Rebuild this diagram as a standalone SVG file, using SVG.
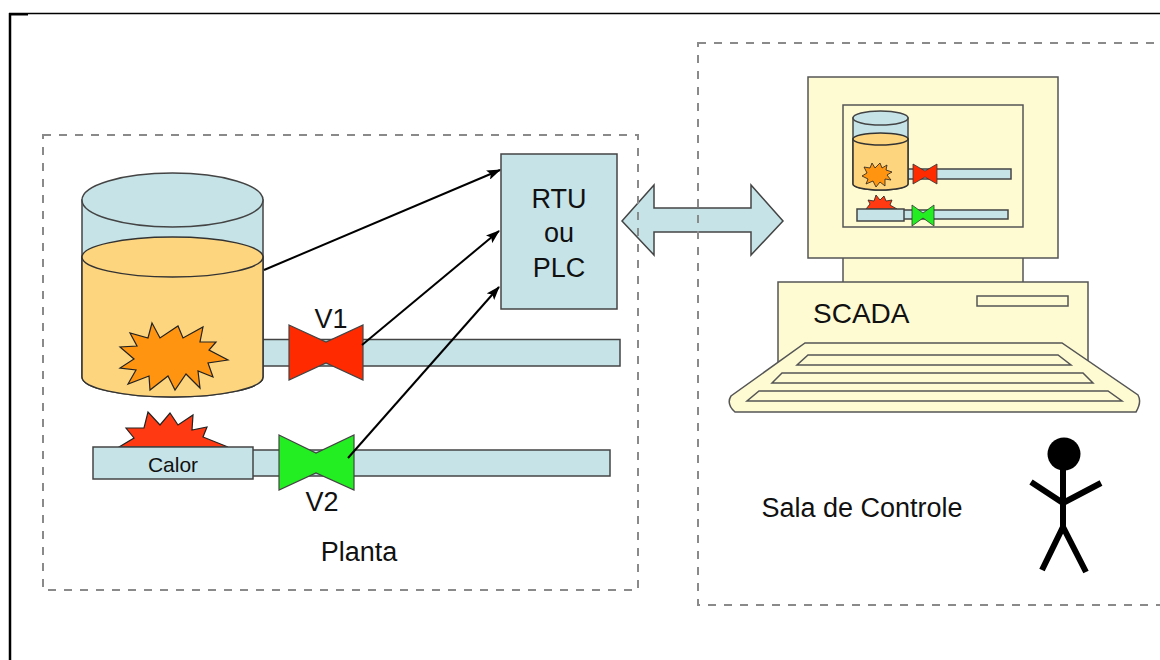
<svg xmlns="http://www.w3.org/2000/svg" width="1160" height="660" viewBox="0 0 1160 660">
  <defs>
    <marker id="arrow" viewBox="0 0 14 10" refX="13" refY="5" markerWidth="14" markerHeight="10" markerUnits="userSpaceOnUse" orient="auto">
      <path d="M0,0 L14,5 L0,10 L3,5 Z" fill="#000"/>
    </marker>
  </defs>
  <style>
    text { font-family: "Liberation Sans", Arial, sans-serif; fill: #111; }
    .zone { fill: none; stroke: #8a8a8a; stroke-width: 2; stroke-dasharray: 8 8; }
    .blue { fill: #c6e4e8; stroke: #444; stroke-width: 1.5; }
    .liquid { fill: #fdd57f; stroke: #333; stroke-width: 1.5; }
    .cream { fill: #fefbd3; stroke: #555; stroke-width: 1.5; }
    .link { fill: none; stroke: #000; stroke-width: 2; marker-end: url(#arrow); }
    .lbl { font-size: 27px; text-anchor: middle; }
  </style>

  <rect width="1160" height="660" fill="#fff"/>

  <!-- outer frame -->
  <line x1="9" y1="13.5" x2="1160" y2="13.5" stroke="#000" stroke-width="1.5"/>
  <line x1="9" y1="14.5" x2="28" y2="14.5" stroke="#000" stroke-width="2"/>
  <line x1="10" y1="13" x2="10" y2="660" stroke="#000" stroke-width="2.5"/>

  <!-- plant: pipes -->
  <g id="pipe-v1"><rect class="blue" x="262" y="339.5" width="358" height="26.5"/></g>
  <g id="pipe-v2"><rect class="blue" x="252" y="450" width="358" height="26"/></g>

  <!-- tank -->
  <g id="tank">
    <path class="blue" d="M82,200 L82,377 A90.5,20 0 0 0 263,377 L263,200 Z"/>
    <path class="liquid" d="M82,257 L82,377 A90.5,20 0 0 0 263,377 L263,257 Z"/>
    <ellipse class="liquid" cx="172.5" cy="257" rx="90.5" ry="20"/>
    <ellipse class="blue" cx="172.5" cy="200" rx="90.5" ry="27"/>
    <polygon fill="#ff9410" stroke="#222" stroke-width="1.2" points="152,323 160,338 178,326 183,338 203,327 200,342 216,342 209,350 228,360 208,363 213,377 198,371 200,388 186,374 175,390 168,376 150,390 149,376 128,384 136,370 120,368 134,359 120,347 137,346 130,333 148,338"/>
  </g>

  <!-- heater -->
  <g id="calor">
    <polygon fill="#ff3a12" stroke="#222" stroke-width="1.2" points="119,447 134,438 126,428 144,428 148,412 160,425 170,413 178,425 193,415 192,430 207,427 203,437 228,447"/>
    <rect class="blue" x="93" y="447" width="160" height="32"/>
    <text x="173" y="472" font-size="21" text-anchor="middle">Calor</text>
  </g>

  <!-- valves -->
  <g id="v1">
    <polygon fill="#ff2a00" stroke="#444" stroke-width="1.2" points="289,325 326,342 363,325 363,380 326,363 289,380"/>
    <text class="lbl" x="331" y="328">V1</text>
  </g>
  <g id="v2">
    <polygon fill="#22ee22" stroke="#444" stroke-width="1.2" points="279,435 316,453 354,435 354,490 316,473 279,490"/>
    <text class="lbl" x="322" y="511">V2</text>
  </g>

  <!-- controller -->
  <g id="rtu">
    <rect class="blue" x="501" y="154" width="116" height="155"/>
    <text class="lbl" x="559" y="208" font-size="28">RTU</text>
    <text class="lbl" x="559" y="242" font-size="28">ou</text>
    <text class="lbl" x="559" y="277" font-size="28">PLC</text>
  </g>

  <!-- signal lines into the controller -->
  <g id="connectors">
    <line class="link" x1="264" y1="270" x2="500" y2="170"/>
    <line class="link" x1="362" y1="345" x2="499" y2="231"/>
    <line class="link" x1="348" y1="458" x2="499" y2="287"/>
    <polygon id="link-scada" class="blue" points="622,221 654,185 654,208 751,208 751,185 783,221 751,255 751,232 654,232 654,255"/>
  </g>

  <!-- zones -->
  <g id="planta">
    <rect class="zone" x="43" y="135" width="595" height="455"/>
    <text class="lbl" x="359" y="561" font-size="28">Planta</text>
  </g>
  <g id="sala">
    <rect class="zone" x="698" y="43" width="480" height="562"/>
    <text class="lbl" x="862" y="517" font-size="29">Sala de Controle</text>
  </g>

  <!-- SCADA workstation -->
  <g id="scada">
    <rect class="cream" x="843" y="256" width="180" height="27"/>
    <rect class="cream" x="808" y="77" width="250" height="181"/>
    <rect class="cream" x="843" y="105" width="180" height="122"/>
    <!-- mini synoptic -->
    <rect class="blue" x="906" y="169" width="105" height="10" stroke-width="1"/>
    <rect class="blue" x="902" y="210" width="106" height="9" stroke-width="1"/>
    <path class="blue" stroke-width="1" d="M853,118 L853,184 A27.5,6 0 0 0 908,184 L908,118 Z"/>
    <path class="liquid" stroke-width="1" d="M853,139 L853,184 A27.5,6 0 0 0 908,184 L908,139 Z"/>
    <ellipse class="liquid" stroke-width="1" cx="880.5" cy="139" rx="27.5" ry="6"/>
    <ellipse class="blue" stroke-width="1" cx="880.5" cy="118" rx="27.5" ry="7"/>
    <polygon fill="#ff9410" stroke="#222" stroke-width="0.8" points="872,163 875,168 880,163 882,168 887,165 886,170 892,172 887,175 891,180 885,179 885,186 880,182 876,187 873,181 866,184 868,179 862,176 867,173 864,167 870,168"/>
    <polygon fill="#ff2a00" stroke="#333" stroke-width="0.8" points="913,164 925,171 937,164 937,184 925,177 913,184"/>
    <polygon fill="#ff3a12" stroke="#222" stroke-width="0.8" points="866,209 870,204 868,200 874,201 876,195 880,200 884,196 886,201 892,200 890,205 897,209"/>
    <rect class="blue" x="857" y="209" width="47" height="12" stroke-width="1"/>
    <polygon fill="#22ee22" stroke="#333" stroke-width="0.8" points="912,205 923,213 934,205 934,226 923,218 912,226"/>
    <!-- base unit -->
    <rect class="cream" x="778" y="282" width="310" height="80"/>
    <rect class="cream" x="977" y="296" width="91" height="10"/>
    <text x="813" y="323" font-size="28">SCADA</text>
    <!-- keyboard -->
    <path class="cream" d="M805,343 L1062,343 L1138,395 Q1142,402 1136,412 L735,412 Q726,404 731,396 Z"/>
    <polygon class="cream" points="808,355 1058,355 1071,365 797,365"/>
    <polygon class="cream" points="782,373 1083,373 1093,383 772,383"/>
    <polygon class="cream" points="759,391 1108,391 1122,401 747,401"/>
  </g>

  <!-- operator -->
  <g id="operador" stroke="#000" stroke-width="6" stroke-linecap="butt" fill="none">
    <circle cx="1064" cy="454" r="16.5" fill="#000" stroke="none"/>
    <line x1="1063" y1="468" x2="1063" y2="527"/>
    <polyline points="1031,482 1063,503 1101,483"/>
    <polyline points="1042,570 1063,527 1086,572"/>
  </g>
</svg>
